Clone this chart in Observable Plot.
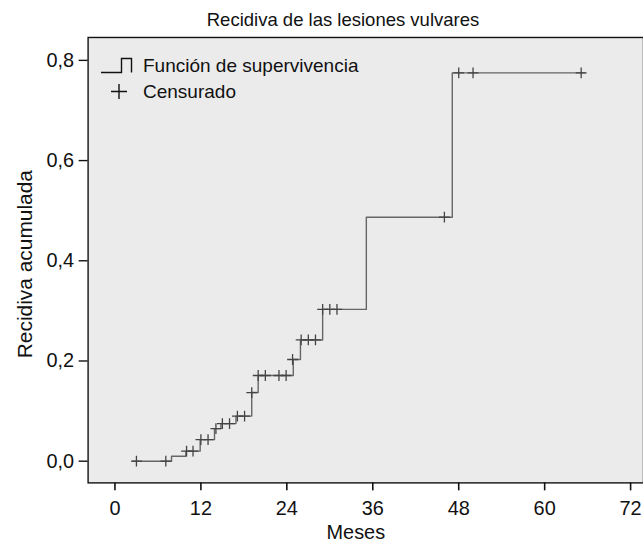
<!DOCTYPE html>
<html>
<head>
<meta charset="utf-8">
<script src="https://cdn.jsdelivr.net/npm/d3@7"></script>
<script src="https://cdn.jsdelivr.net/npm/@observablehq/plot@0.6"></script>
<style>
  html, body { margin: 0; padding: 0; background: #fff; }
  body { width: 643px; height: 545px; overflow: hidden; position: relative; font-family: "Liberation Sans", Arial, sans-serif; color: #111; }
  #title { box-sizing: border-box; height: 32px; padding-top: 8px; padding-left: 43px; line-height: 24px; font-size: 18.5px; text-align: center; width: 643px; white-space: nowrap; }
  #legend { position: absolute; left: 0; top: 0; width: 643px; height: 545px; pointer-events: none; }
</style>
</head>
<body>
<div id="title">Recidiva de las lesiones vulvares</div>
<div id="chart"></div>
<svg id="legend" width="643" height="545">
  <path d="M101,72.5H121.5V58.5H131.5V72.5" fill="none" stroke="#111" stroke-width="1.4"/>
  <path d="M111,91.5H127M119,84V99" fill="none" stroke="#111" stroke-width="1.4"/>
  <text x="143" y="72" font-size="19" fill="#111" font-family="Liberation Sans, Arial, sans-serif">Función de supervivencia</text>
  <text x="143" y="98" font-size="19" fill="#111" font-family="Liberation Sans, Arial, sans-serif">Censurado</text>
</svg>
<script>
// Step curve (cumulative recurrence) — months at which the curve changes, and the value from that month on
const curveMonths = [2.5, 7.9, 9.9, 11.9, 13.9, 14.8, 16.9, 19.1, 20.0, 24.9, 25.9, 29.0, 35.1, 47.1, 65.6];
const curveValues = [0, 0.010, 0.020, 0.043, 0.065, 0.075, 0.090, 0.137, 0.171, 0.203, 0.242, 0.303, 0.487, 0.775, 0.775];

// Censored observations
const censorMonths = [3.0, 7.1, 10.0, 10.9, 12.0, 13.0, 14.1, 15.0, 16.0, 17.1, 18.1, 19.1, 20.0, 21.0, 22.9, 23.9, 24.8, 26.0, 27.0, 28.0, 29.0, 30.0, 31.0, 46.0, 48.0, 50.0, 65.1];
const censorValues = [0, 0, 0.020, 0.020, 0.043, 0.043, 0.065, 0.075, 0.075, 0.090, 0.090, 0.137, 0.171, 0.171, 0.171, 0.171, 0.203, 0.242, 0.242, 0.242, 0.303, 0.303, 0.303, 0.487, 0.775, 0.775, 0.775];

// Axis ticks
const xTicks = [0, 12, 24, 36, 48, 60, 72];
const yTicks = [0, 0.2, 0.4, 0.6, 0.8];

const curve = curveMonths.map((m, i) => ({m, v: curveValues[i]}));
const censored = censorMonths.map((m, i) => ({m, v: censorValues[i]}));

const fmt = d => d.toFixed(1).replace(".", ",");

const chart = Plot.plot({
  width: 646,
  height: 513,
  marginTop: 5,
  marginBottom: 60.5,
  marginLeft: 88,
  marginRight: 0,
  style: {fontFamily: "Liberation Sans, Arial, sans-serif", color: "#111", background: "transparent", overflow: "visible"},
  x: {domain: [-3.75, 73.8], label: null},
  y: {domain: [-0.0433, 0.8457], label: null},
  marks: [
    Plot.frame({fill: "#ebebeb", stroke: null}),
    Plot.frame({stroke: "#111", strokeWidth: 1.4}),
    Plot.axisX({ticks: xTicks, tickSize: 8, tickPadding: 10, tickFormat: d => String(d), fontSize: 20, stroke: "#111", strokeWidth: 1.6, label: null}),
    Plot.axisY({ticks: yTicks, tickSize: 9, tickPadding: 5, tickFormat: fmt, fontSize: 20, stroke: "#111", strokeWidth: 1.4, label: null}),
    Plot.line(curve, {x: "m", y: "v", curve: "step-after", stroke: "#666", strokeWidth: 1.4}),
    Plot.dot(censored, {x: "m", y: "v", symbol: "plus", r: 3.6, stroke: "#444", strokeWidth: 1.3}),
    Plot.text(["Meses"], {frameAnchor: "bottom", lineAnchor: "middle", textAnchor: "middle", dx: -10, dy: 50, fontSize: 20, fill: "#111"}),
    Plot.text(["Recidiva acumulada"], {frameAnchor: "left", lineAnchor: "middle", textAnchor: "middle", dx: -63, dy: 4, rotate: -90, fontSize: 21, fill: "#111"})
  ]
});
document.getElementById("chart").appendChild(chart);
</script>
</body>
</html>
